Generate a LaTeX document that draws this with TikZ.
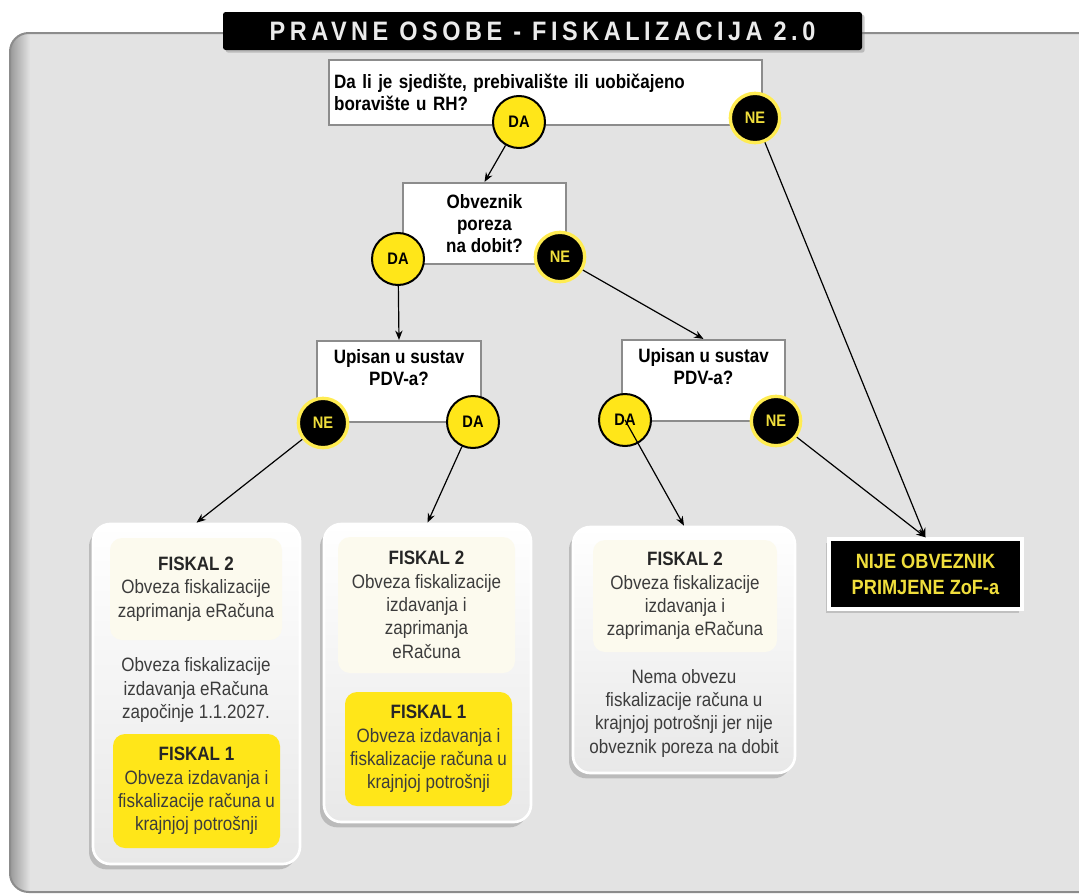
\documentclass[tikz,border=0pt]{standalone}
\usepackage{fontspec}
\setmainfont{Liberation Sans}[FakeStretch=0.88]
\newfontfamily\titlefont{Liberation Sans}[FakeStretch=0.88,LetterSpace=17]
\usetikzlibrary{arrows.meta,shadows}
\definecolor{panelgray}{RGB}{227,227,227}
\definecolor{framegray}{RGB}{140,140,140}
\definecolor{fiskyellow}{RGB}{255,230,25}
\definecolor{nijeyellow}{RGB}{240,222,60}
\definecolor{cream}{RGB}{252,250,238}
\definecolor{bodygray}{RGB}{60,60,60}
\newcommand\fiskalhead[1]{{\color{black!85}\bfseries FISKAL #1}}
\tikzset{pxsize/.style 2 args={minimum width=#1*0.75pt,minimum height=#2*0.75pt}}
\tikzset{edge/.style={-{Stealth[length=7pt,width=5.5pt]},line width=0.9pt}}
\tikzset{qbox/.style={draw=framegray,fill=white,line width=1.6pt,inner sep=0pt,align=center,font=\bfseries\fontsize{14.5}{16.5}\selectfont}}
\tikzset{da/.style={circle,draw=black,fill=fiskyellow,line width=1.5pt,minimum size=39pt,inner sep=0pt,font=\bfseries\fontsize{12.5}{12.5}\selectfont}}
\tikzset{ne/.style={circle,draw=fiskyellow!75!white,fill=black,text=nijeyellow,line width=2.5pt,minimum size=37pt,inner sep=0pt,font=\bfseries\fontsize{12.5}{12.5}\selectfont}}
\tikzset{resbox/.style={draw=white,top color=white,bottom color=black!9,line width=2pt,rounded corners=13pt,inner sep=0pt,drop shadow={shadow xshift=-3pt,shadow yshift=-4pt,opacity=.4}}}
\tikzset{fiskal2/.style={fill=cream,rounded corners=9pt,inner sep=0pt,align=center,text=bodygray,font=\fontsize{14.5}{17.5}\selectfont}}
\tikzset{fiskal1/.style={fiskal2,fill=fiskyellow}}
\tikzset{restext/.style={align=center,text=bodygray,font=\fontsize{14.5}{17.5}\selectfont}}

\begin{document}
\begin{tikzpicture}[x=0.75pt,y=-0.75pt]
  \clip (0,0) rectangle (1079,896);
  \fill[white] (0,0) rectangle (1079,896);
  \fill[panelgray,rounded corners=14pt] (10,33) rectangle (1120,892);
  \begin{scope}
    \clip[rounded corners=14pt] (10,33) rectangle (1120,892);
    \shade[left color=black!40,right color=panelgray] (10,33) rectangle (30,892);
  \end{scope}
  \draw[framegray,line width=1.5pt,rounded corners=14pt] (10,33) rectangle (1120,892);
  \node[fill=black,rounded corners=2pt,inner sep=0pt,pxsize={639}{38},text=white!92!black,
    font=\titlefont\bfseries\fontsize{20}{20}\selectfont,drop shadow={shadow xshift=2pt,shadow yshift=-2pt,opacity=.4}] (title) at (542.5,31) {PRAVNE OSOBE - FISKALIZACIJA 2.0};
  \node[qbox,pxsize={433}{65},text width=317pt,align=left] (q1) at (545.5,92.5)
    {Da li je sjedište, prebivalište ili uobičajeno\\boravište u RH?};
  \node[qbox,pxsize={163}{81}] (q2) at (484.5,223.5) {Obveznik\\poreza\\na dobit?};
  \node[qbox,pxsize={164}{81}] (q3) at (399,381.5) {Upisan u sustav\\PDV-a?\\\strut};
  \node[qbox,pxsize={163}{81}] (q4) at (703.5,380.5) {Upisan u sustav\\PDV-a?\\\strut};
  \node[da] (da1) at (519,122) {DA};
  \node[ne] (ne1) at (755,118) {NE};
  \node[da] (da2) at (398,259) {DA};
  \node[ne] (ne2) at (560,257) {NE};
  \node[ne] (ne3) at (323,423) {NE};
  \node[da] (da3) at (473,422) {DA};
  \node[da] (da4) at (625,420) {DA};
  \node[ne] (ne4) at (776,421) {NE};
  \node[resbox,pxsize={207}{340}] (r1) at (196.5,694) {};
  \node[fiskal2,pxsize={172}{102}] (r1f2) at (196,589) {\fiskalhead{2}\\Obveza fiskalizacije\\zaprimanja eRačuna};
  \node[restext] (r1t) at (196,690) {Obveza fiskalizacije\\izdavanja eRačuna\\započinje 1.1.2027.};
  \node[fiskal1,pxsize={167}{114}] (r1f1) at (196.5,791) {\fiskalhead{1}\\Obveza izdavanja i\\fiskalizacije računa u\\krajnjoj potrošnji};
  \node[resbox,pxsize={207}{298}] (r2) at (427.5,673) {};
  \node[fiskal2,pxsize={177}{136}] (r2f2) at (426.5,605) {\fiskalhead{2}\\Obveza fiskalizacije\\izdavanja i\\zaprimanja\\eRačuna};
  \node[fiskal1,pxsize={167}{114}] (r2f1) at (428.5,749) {\fiskalhead{1}\\Obveza izdavanja i\\fiskalizacije računa u\\krajnjoj potrošnji};
  \node[resbox,pxsize={222}{246}] (r3) at (684,650) {};
  \node[fiskal2,pxsize={184}{112}] (r3f2) at (685,596) {\fiskalhead{2}\\Obveza fiskalizacije\\izdavanja i\\zaprimanja eRačuna};
  \node[restext] (r3t) at (684,713) {Nema obvezu\\fiskalizacije računa u\\krajnjoj potrošnji jer nije\\obveznik poreza na dobit};
  \node[fill=black,draw=white,line width=2.5pt,inner sep=0pt,pxsize={193}{70},align=center,text=nijeyellow,
    font=\bfseries\fontsize{15.5}{19.5}\selectfont,drop shadow={shadow xshift=-2pt,shadow yshift=-3pt,opacity=.35}] (nije) at (925.5,574) {NIJE OBVEZNIK\\PRIMJENE ZoF-a};
  \draw[edge] (da1) -- (q2.north);
  \draw[edge] (ne1) -- (nije.north);
  \draw[edge] (da2) -- (q3.north);
  \draw[edge] (ne2) -- (q4.north);
  \draw[edge] (ne3) -- (r1.north);
  \draw[edge] (da3) -- (r2.north);
  \draw[edge] (da4.center) -- (r3.north);
  \draw[edge] (ne4) -- (nije.north);
\end{tikzpicture}
\end{document}
